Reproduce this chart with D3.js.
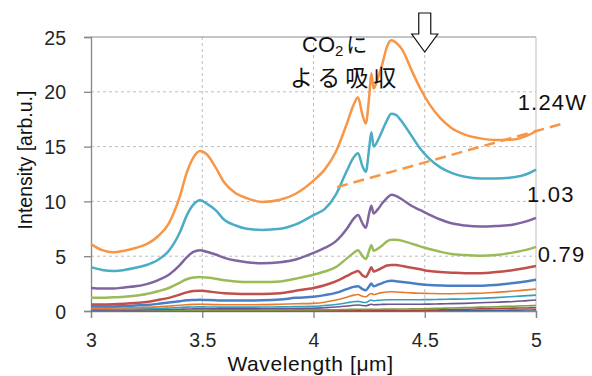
<!DOCTYPE html>
<html>
<head>
<meta charset="utf-8">
<script src="https://cdn.jsdelivr.net/npm/d3@7"></script>
<style>
  body { margin: 0; background: #fff; }
  svg text { font-family: "Liberation Sans", Arial, sans-serif; }
  .jp { font-family: "Noto Sans CJK JP", sans-serif; }
</style>
</head>
<body>
<div id="chart"></div>
<script>
var svgWidth = 592;
var svgHeight = 376;

var margin = { top: 37, right: 56, bottom: 65, left: 91 };
var width = svgWidth - margin.left - margin.right;
var height = svgHeight - margin.top - margin.bottom;

// wavelength samples [um]
var wavelength = [3.00, 3.05, 3.10, 3.15, 3.20, 3.25, 3.30, 3.35, 3.40, 3.43, 3.46, 3.49,
  3.52, 3.56, 3.60, 3.65, 3.70, 3.77, 3.85, 3.92, 4.00, 4.05, 4.10, 4.15,
  4.18, 4.20, 4.22, 4.235, 4.25, 4.26, 4.27, 4.29, 4.31, 4.33, 4.35, 4.37,
  4.40, 4.44, 4.48, 4.52, 4.57, 4.62, 4.68, 4.75, 4.82, 4.90, 4.96, 5.00];

// intensity per series, lowest power first
var s1 = [0.01, 0.01, 0.01, 0.01, 0.01, 0.01, 0.01, 0.01, 0.02, 0.02, 0.02, 0.02,
  0.02, 0.02, 0.02, 0.02, 0.02, 0.02, 0.02, 0.02, 0.02, 0.02, 0.03, 0.03,
  0.03, 0.03, 0.03, 0.03, 0.03, 0.03, 0.03, 0.03, 0.03, 0.03, 0.03, 0.03,
  0.03, 0.03, 0.04, 0.04, 0.04, 0.05, 0.05, 0.06, 0.07, 0.08, 0.09, 0.1];
var s2 = [0.01, 0.01, 0.01, 0.01, 0.01, 0.01, 0.01, 0.01, 0.02, 0.02, 0.02, 0.02,
  0.02, 0.02, 0.02, 0.02, 0.02, 0.02, 0.02, 0.02, 0.02, 0.02, 0.02, 0.02,
  0.02, 0.02, 0.02, 0.02, 0.02, 0.02, 0.02, 0.02, 0.02, 0.02, 0.02, 0.02,
  0.02, 0.04, 0.06, 0.08, 0.1, 0.13, 0.16, 0.2, 0.23, 0.26, 0.28, 0.3];
var s3 = [0.03, 0.03, 0.03, 0.04, 0.04, 0.04, 0.05, 0.05, 0.06, 0.07, 0.07, 0.08,
  0.08, 0.08, 0.08, 0.08, 0.08, 0.08, 0.09, 0.1, 0.1, 0.11, 0.12, 0.14,
  0.15, 0.16, 0.15, 0.15, 0.16, 0.17, 0.16, 0.16, 0.17, 0.17, 0.17, 0.17,
  0.18, 0.19, 0.2, 0.22, 0.25, 0.28, 0.31, 0.35, 0.39, 0.44, 0.48, 0.5];
var s4 = [0.08, 0.08, 0.09, 0.09, 0.1, 0.11, 0.12, 0.14, 0.16, 0.18, 0.19, 0.2,
  0.2, 0.19, 0.19, 0.19, 0.19, 0.2, 0.21, 0.23, 0.25, 0.3, 0.36, 0.45,
  0.52, 0.55, 0.5, 0.48, 0.56, 0.62, 0.57, 0.58, 0.6, 0.61, 0.62, 0.62,
  0.62, 0.62, 0.62, 0.63, 0.65, 0.67, 0.7, 0.75, 0.8, 0.87, 0.95, 1.0];
var s5 = [0.15, 0.15, 0.16, 0.17, 0.18, 0.2, 0.23, 0.27, 0.32, 0.35, 0.37, 0.38,
  0.37, 0.36, 0.35, 0.35, 0.35, 0.36, 0.38, 0.4, 0.42, 0.5, 0.6, 0.75,
  0.85, 0.88, 0.8, 0.78, 0.92, 1.0, 0.93, 0.97, 1.0, 1.02, 1.03, 1.03,
  1.02, 1.02, 1.03, 1.04, 1.06, 1.08, 1.1, 1.15, 1.22, 1.32, 1.4, 1.45];
var s6 = [0.25, 0.25, 0.27, 0.28, 0.3, 0.33, 0.38, 0.45, 0.52, 0.57, 0.6, 0.62,
  0.6, 0.58, 0.57, 0.57, 0.57, 0.58, 0.62, 0.66, 0.7, 0.8, 1.0, 1.25,
  1.45, 1.5, 1.35, 1.3, 1.5, 1.6, 1.5, 1.6, 1.68, 1.73, 1.75, 1.74,
  1.7, 1.65, 1.62, 1.6, 1.58, 1.58, 1.6, 1.62, 1.7, 1.82, 1.93, 2.0];
var s7 = [0.4, 0.4, 0.42, 0.45, 0.5, 0.55, 0.65, 0.78, 0.9, 0.97, 1.0, 1.02,
  1.0, 0.97, 0.95, 0.95, 0.95, 0.97, 1.05, 1.2, 1.3, 1.45, 1.65, 2.0,
  2.2, 2.25, 2.0, 1.9, 2.25, 2.5, 2.25, 2.4, 2.55, 2.7, 2.75, 2.72,
  2.65, 2.55, 2.45, 2.38, 2.33, 2.3, 2.3, 2.3, 2.38, 2.55, 2.72, 2.85];
var s8 = [0.6, 0.6, 0.62, 0.66, 0.72, 0.82, 1.0, 1.2, 1.5, 1.7, 1.82, 1.85,
  1.8, 1.7, 1.62, 1.57, 1.55, 1.55, 1.62, 1.85, 2.1, 2.35, 2.7, 3.2,
  3.5, 3.65, 3.25, 3.1, 3.6, 4.0, 3.6, 3.75, 3.95, 4.15, 4.2, 4.2,
  4.1, 3.95, 3.8, 3.65, 3.55, 3.5, 3.45, 3.45, 3.55, 3.75, 3.95, 4.1];
var s9 = [1.2, 1.2, 1.25, 1.3, 1.4, 1.55, 1.8, 2.1, 2.6, 2.9, 3.05, 3.1,
  3.05, 2.95, 2.8, 2.7, 2.65, 2.65, 2.7, 2.95, 3.3, 3.6, 4.0, 4.8,
  5.3, 5.55, 5.0, 4.75, 5.5, 6.0, 5.5, 5.7, 6.0, 6.35, 6.5, 6.5,
  6.4, 6.15, 5.9, 5.65, 5.4, 5.2, 5.1, 5.05, 5.1, 5.35, 5.6, 5.85];
var s10 = [2.1, 2.05, 2.05, 2.15, 2.25, 2.45, 2.8, 3.3, 4.2, 4.9, 5.4, 5.55,
  5.4, 5.15, 4.85, 4.6, 4.45, 4.35, 4.45, 4.7, 5.3, 5.75, 6.35, 7.5,
  8.4, 8.75, 8.0, 7.6, 8.9, 9.6, 8.9, 9.3, 9.85, 10.3, 10.6, 10.5,
  10.15, 9.6, 9.2, 8.8, 8.35, 8.0, 7.8, 7.7, 7.75, 7.9, 8.2, 8.5];
var s11 = [4.0, 3.75, 3.65, 3.75, 3.95, 4.2, 4.65, 5.5, 7.2, 8.7, 9.7, 10.1,
  9.8, 9.2, 8.3, 7.8, 7.5, 7.4, 7.5, 7.9, 8.75, 9.3, 10.6, 12.8,
  14.0, 14.4, 13.2, 12.7, 14.8, 16.3, 15.0, 15.6, 16.5, 17.4, 18.0, 17.9,
  17.2, 16.0, 14.8, 13.9, 13.1, 12.6, 12.25, 12.1, 12.1, 12.2, 12.5, 12.9];
var s12 = [6.1, 5.55, 5.35, 5.5, 5.75, 6.1, 6.8, 8.0, 10.5, 12.6, 14.0, 14.6,
  14.3, 13.1, 11.7, 10.75, 10.3, 9.95, 10.15, 10.7, 11.9, 12.9, 14.5, 17.1,
  18.8, 19.5, 17.9, 17.1, 19.5, 21.7, 20.3, 21.3, 22.6, 24.1, 24.7, 24.5,
  23.8, 22.0, 20.3, 18.9, 17.6, 16.7, 16.1, 15.75, 15.6, 15.65, 16.0, 16.4];

var seriesList = [s1, s2, s3, s4, s5, s6, s7, s8, s9, s10, s11, s12];
var seriesColors = ["#3d6699", "#a84440", "#7f9c45", "#6b5590", "#36a0b8", "#e47c2e",
  "#4a7ec4", "#c0504d", "#9bbb59", "#8064a2", "#4bacc6", "#f79646"];

var xTicks = [3, 3.5, 4, 4.5, 5];
var yTicks = [0, 5, 10, 15, 20, 25];

// power labels: [text, wavelength, intensity of baseline]
var powerLabels = [["1.24W", 5.074, 18.3], ["1.03", 5.067, 9.97], ["0.79", 5.115, 4.5]];
// dashed guide line end points [wavelength, intensity]
var trendLine = [[4.106, 11.3], [5.12, 17.1]];

var svg = d3.select("#chart")
  .append("svg")
  .attr("width", svgWidth)
  .attr("height", svgHeight);

var chartGroup = svg.append("g")
  .attr("transform", `translate(${margin.left}, ${margin.top})`);

var xScale = d3.scaleLinear().domain([3, 5]).range([0, width]);
var yScale = d3.scaleLinear().domain([0, 25]).range([height, 0]);

// grid lines
chartGroup.append("g")
  .selectAll("line")
  .data(yTicks.slice(1, -1))
  .enter()
  .append("line")
  .attr("x1", 0)
  .attr("x2", width)
  .attr("y1", d => yScale(d))
  .attr("y2", d => yScale(d))
  .attr("stroke", "#bdbdbd")
  .attr("stroke-width", 1)
  .attr("stroke-dasharray", "3,3");

chartGroup.append("g")
  .selectAll("line")
  .data(xTicks.slice(1, -1))
  .enter()
  .append("line")
  .attr("x1", d => xScale(d))
  .attr("x2", d => xScale(d))
  .attr("y1", 0)
  .attr("y2", height)
  .attr("stroke", "#bdbdbd")
  .attr("stroke-width", 1)
  .attr("stroke-dasharray", "3,3");

// frame top and right
chartGroup.append("line")
  .attr("x1", 0).attr("x2", width)
  .attr("y1", yScale(25)).attr("y2", yScale(25))
  .attr("stroke", "#8c8c8c").attr("stroke-width", 1.2);
chartGroup.append("line")
  .attr("x1", xScale(5)).attr("x2", xScale(5))
  .attr("y1", 0).attr("y2", height)
  .attr("stroke", "#bdbdbd").attr("stroke-width", 1);

// axes
var bottomAxis = d3.axisBottom(xScale)
  .tickValues(xTicks)
  .tickFormat(d3.format("~g"))
  .tickSize(7)
  .tickPadding(15);
var leftAxis = d3.axisLeft(yScale)
  .tickValues(yTicks)
  .tickSize(7)
  .tickPadding(18);

var xAxis = chartGroup.append("g")
  .attr("transform", `translate(0, ${height})`)
  .call(bottomAxis);
var yAxis = chartGroup.append("g")
  .call(leftAxis);

[xAxis, yAxis].forEach(function(ax) {
  ax.select(".domain").attr("stroke", "#868686").attr("stroke-width", 1.3);
  ax.selectAll(".tick line").attr("stroke", "#868686").attr("stroke-width", 1.3);
  ax.selectAll(".tick text")
    .attr("fill", "#262626")
    .style("font-size", "19.5px")
    .style("font-family", "'Liberation Sans', Arial, sans-serif");
});
yAxis.selectAll(".tick text").attr("dy", "0.36em");

// spectra
var line = d3.line()
  .x((d, i) => xScale(wavelength[i]))
  .y(d => yScale(d))
  .curve(d3.curveMonotoneX);

chartGroup.append("g")
  .selectAll("path")
  .data(seriesList)
  .enter()
  .append("path")
  .attr("d", d => line(d))
  .attr("fill", "none")
  .attr("stroke", (d, i) => seriesColors[i])
  .attr("stroke-width", (d, i) => i < 6 ? 1.6 : 2.5)
  .attr("stroke-linejoin", "round");

// dashed orange guide
chartGroup.append("line")
  .attr("x1", xScale(trendLine[0][0]))
  .attr("y1", yScale(trendLine[0][1]))
  .attr("x2", xScale(trendLine[1][0]))
  .attr("y2", yScale(trendLine[1][1]))
  .attr("stroke", "#f79646")
  .attr("stroke-width", 2.5)
  .attr("stroke-dasharray", "11,6");

// power labels
chartGroup.selectAll(".plabel")
  .data(powerLabels)
  .enter()
  .append("text")
  .attr("class", "plabel")
  .attr("x", d => xScale(d[1]))
  .attr("y", d => yScale(d[2]))
  .attr("text-anchor", "middle")
  .style("font-size", "22px")
  .style("letter-spacing", "1.2px")
  .attr("fill", "#111")
  .text(d => d[0]);

// CO2 absorption note
var ax45 = xScale(4.5);
var top25 = yScale(25);
chartGroup.append("path")
  .attr("d", `M${ax45 - 6},${top25 - 24} L${ax45 + 6},${top25 - 24} L${ax45 + 6},${top25 - 3}`
    + ` L${ax45 + 13},${top25 - 3} L${ax45},${top25 + 15} L${ax45 - 13},${top25 - 3}`
    + ` L${ax45 - 6},${top25 - 3} Z`)
  .attr("fill", "#fff")
  .attr("stroke", "#111")
  .attr("stroke-width", 1.2);

var note = chartGroup.append("text")
  .attr("x", 211)
  .attr("y", 15)
  .attr("fill", "#111")
  .style("font-size", "22px");
note.append("tspan").text("CO");
note.append("tspan").attr("dy", 4).style("font-size", "15px").text("2");
note.append("tspan").attr("dy", -4).attr("class", "jp").attr("dx", 3).style("font-size", "21px").text("に");

chartGroup.append("text")
  .attr("class", "jp")
  .attr("x", 199)
  .attr("y", 49)
  .attr("fill", "#111")
  .style("font-size", "23px")
  .style("letter-spacing", "5px")
  .text("よる吸収");

// axis titles
svg.append("text")
  .attr("x", margin.left + width / 2 - 3)
  .attr("y", 371)
  .attr("text-anchor", "middle")
  .attr("fill", "#111")
  .style("font-size", "21px")
  .style("letter-spacing", "0.6px")
  .text("Wavelength [μm]");

svg.append("text")
  .attr("transform", "translate(32, 160) rotate(-90)")
  .attr("text-anchor", "middle")
  .attr("fill", "#111")
  .style("font-size", "19.5px")
  .text("Intensity [arb.u.]");
</script>
</body>
</html>
